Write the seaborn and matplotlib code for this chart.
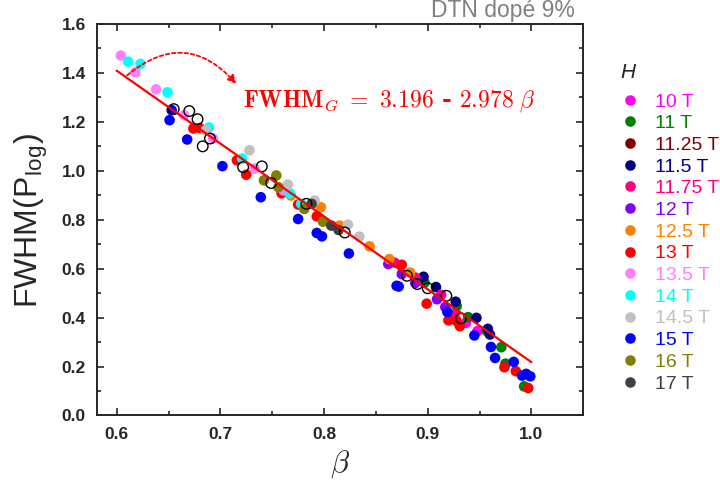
import pandas as pd
import numpy as np
import matplotlib
matplotlib.use("Agg")
import matplotlib.pyplot as plt
import seaborn as sns
from matplotlib.ticker import MultipleLocator

# %%
# Valeurs (beta, FWHM) pour chaque champ H
field_labels = ["10 T", "11 T", "11.25 T", "11.5 T", "11.75 T", "12 T", "12.5 T",
                "13 T", "13.5 T", "14 T", "14.5 T", "15 T", "16 T", "17 T"]

beta_10 = [0.937, 0.948]
fwhm_10 = [0.379, 0.345]
beta_11 = [0.897, 0.928, 0.939, 0.957, 0.971, 0.975, 0.993]
fwhm_11 = [0.543, 0.447, 0.402, 0.345, 0.279, 0.212, 0.119]
beta_1125 = [0.925]
fwhm_1125 = [0.405]
beta_115 = [0.896, 0.908, 0.927, 0.947, 0.958, 0.960]
fwhm_115 = [0.567, 0.525, 0.465, 0.399, 0.354, 0.331]
beta_1175 = [0.868, 0.888, 0.913, 0.926]
fwhm_1175 = [0.625, 0.564, 0.493, 0.413]
beta_12 = [0.862, 0.875, 0.888, 0.909, 0.917]
fwhm_12 = [0.619, 0.578, 0.541, 0.475, 0.443]
beta_125 = [0.768, 0.797, 0.815, 0.844, 0.863, 0.883]
fwhm_125 = [0.899, 0.851, 0.776, 0.691, 0.639, 0.584]
beta_13 = [0.674, 0.680, 0.716, 0.725, 0.759, 0.775, 0.793, 0.875, 0.899,
           0.920, 0.928, 0.931, 0.974, 0.985, 0.997]
fwhm_13 = [1.173, 1.175, 1.043, 0.984, 0.908, 0.862, 0.814, 0.616, 0.457,
           0.389, 0.386, 0.365, 0.197, 0.181, 0.112]
beta_135 = [0.604, 0.618, 0.638, 0.665, 0.693, 0.733, 0.761]
fwhm_135 = [1.471, 1.403, 1.333, 1.227, 1.132, 1.009, 0.920]
beta_14 = [0.611, 0.623, 0.649, 0.689, 0.721, 0.767, 0.778]
fwhm_14 = [1.446, 1.437, 1.321, 1.177, 1.050, 0.908, 0.865]
beta_145 = [0.686, 0.728, 0.765, 0.791, 0.823, 0.834]
fwhm_145 = [1.166, 1.084, 0.944, 0.878, 0.780, 0.731]
beta_15 = [0.653, 0.651, 0.668, 0.702, 0.739, 0.775, 0.793, 0.798, 0.824, 0.870,
           0.872, 0.919, 0.945, 0.961, 0.965, 0.983, 0.991, 0.995, 0.999]
fwhm_15 = [1.248, 1.207, 1.128, 1.019, 0.892, 0.803, 0.746, 0.732, 0.662, 0.530,
           0.527, 0.423, 0.327, 0.280, 0.235, 0.219, 0.163, 0.170, 0.160]
beta_16 = [0.742, 0.754, 0.756, 0.781, 0.799]
fwhm_16 = [0.961, 0.981, 0.933, 0.844, 0.792]
beta_17 = [0.788, 0.807, 0.814]
fwhm_17 = [0.865, 0.776, 0.758]

# cercles ouverts (sans légende)
beta_open = [0.655, 0.670, 0.678, 0.690, 0.683, 0.722, 0.740, 0.749, 0.783,
             0.820, 0.880, 0.890, 0.900, 0.918, 0.932]
fwhm_open = [1.252, 1.244, 1.211, 1.132, 1.100, 1.015, 1.018, 0.950, 0.865,
             0.748, 0.571, 0.537, 0.520, 0.489, 0.397]

# ajustement linéaire
fit_a, fit_b = 3.196, -2.978
fit_range = [0.6, 1.0]

field_colors = ["#FF00FF", "#008000", "#800000", "#000080", "#FF0080", "#8000FF",
                "#FF8000", "#FF0000", "#FF80FF", "#00FFFF", "#C0C0C0", "#0000FF",
                "#808000", "#404040"]

# %%
series = [(beta_10, fwhm_10), (beta_11, fwhm_11), (beta_1125, fwhm_1125),
          (beta_115, fwhm_115), (beta_1175, fwhm_1175), (beta_12, fwhm_12),
          (beta_125, fwhm_125), (beta_13, fwhm_13), (beta_135, fwhm_135),
          (beta_14, fwhm_14), (beta_145, fwhm_145), (beta_15, fwhm_15),
          (beta_16, fwhm_16), (beta_17, fwhm_17)]
rows = []
for lab, (b, f) in zip(field_labels, series):
    for bi, fi in zip(b, f):
        rows.append({"H": lab, "beta": bi, "fwhm": fi})
df = pd.DataFrame(rows)
df_open = pd.DataFrame({"beta": beta_open, "fwhm": fwhm_open})
fit_x = np.array(fit_range)
df_fit = pd.DataFrame({"beta": fit_x, "fwhm": fit_a + fit_b * fit_x})

sns.set_style("ticks")
plt.rcParams["font.family"] = ["Liberation Sans", "DejaVu Sans"]
plt.rcParams["mathtext.fontset"] = "cm"

fig = plt.figure(figsize=(7.2, 4.83), dpi=100)
ax = fig.add_axes([0.1347, 0.1398, 0.6753, 0.8105])

palette = dict(zip(field_labels, field_colors))
sns.scatterplot(data=df, x="beta", y="fwhm", hue="H", hue_order=field_labels,
                palette=palette, s=58, linewidth=0, ax=ax, zorder=3)
sns.scatterplot(data=df_open, x="beta", y="fwhm", s=58, facecolor="none",
                edgecolor="black", linewidth=1.0, ax=ax, zorder=4)
sns.lineplot(data=df_fit, x="beta", y="fwhm", color="#FF0000", lw=1.6, ax=ax, zorder=5)

ax.set_xlim(0.581, 1.05)
ax.set_ylim(0, 1.6)
ax.xaxis.set_major_locator(MultipleLocator(0.1))
ax.xaxis.set_minor_locator(MultipleLocator(0.05))
ax.yaxis.set_major_locator(MultipleLocator(0.2))
ax.yaxis.set_minor_locator(MultipleLocator(0.1))
ax.set_xticks([0.6, 0.7, 0.8, 0.9, 1.0])
ax.set_xticklabels(["0.6", "0.7", "0.8", "0.9", "1.0"])
ax.tick_params(which="both", direction="in", top=True, right=True, width=1.2)
ax.tick_params(which="major", length=5, labelsize=12.5, pad=8)
ax.tick_params(which="minor", length=3)
for t in ax.get_xticklabels() + ax.get_yticklabels():
    t.set_fontweight("bold")
for sp in ax.spines.values():
    sp.set_linewidth(1.4)
    sp.set_visible(True)

ax.set_xlabel(r"$\beta$", fontsize=22, labelpad=5)
ax.set_ylabel(r"FWHM(P$_\mathregular{log}$)", fontsize=23, labelpad=8)

# équation + flèche
ax.text(0.7217, 1.285,
        r"$\mathbf{FWHM}_G\ \mathbf{=\ 3.196}$ - $\mathbf{2.978}\ \beta$",
        color="#FF0000", fontsize=17, ha="left", va="center",
        family=["DejaVu Serif"], fontweight="bold")
ax.annotate("", xy=(0.717, 1.347), xytext=(0.608, 1.383),
            arrowprops=dict(arrowstyle="-|>", color="#FF0000", lw=1.3,
                            linestyle=(0, (2, 1.5)), connectionstyle="arc3,rad=-0.5",
                            mutation_scale=12))

fig.text(503 / 720, 1 - 11 / 483, "DTN dopé 9%", color="#808080", fontsize=16.5,
         ha="center", va="center")

# légende
fig.text(620 / 720, 1 - 72 / 483, "H", style="italic", fontsize=15,
         ha="left", va="center")
handles, labels = ax.get_legend_handles_labels()
leg = ax.legend(handles[:len(field_labels)], labels[:len(field_labels)],
                loc="upper left", bbox_to_anchor=(1.0755, 0.824), frameon=False,
                fontsize=14, labelspacing=0.21, handletextpad=0.8,
                handlelength=1.0, borderpad=0, borderaxespad=0)
for txt, c in zip(leg.get_texts(), field_colors):
    txt.set_color(c)

plt.savefig("out.png", dpi=100)
